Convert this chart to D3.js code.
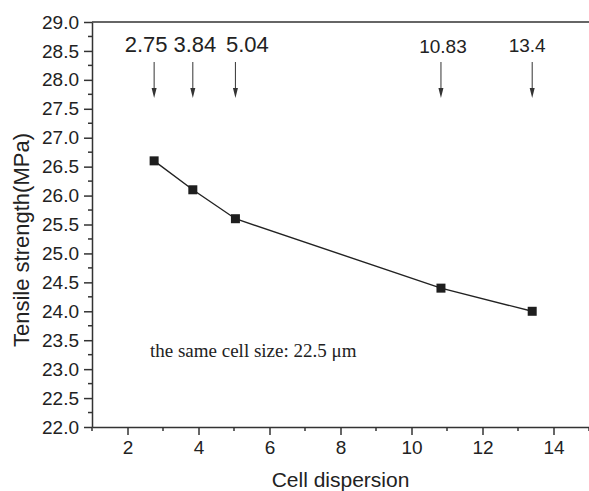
<!DOCTYPE html>
<html>
<head>
<meta charset="utf-8">
<script src="https://cdn.jsdelivr.net/npm/d3@7/dist/d3.min.js"></script>
<style>
html,body{margin:0;padding:0;background:#fff;}
svg{display:block;font-family:"Liberation Sans",Arial,sans-serif;}
</style>
</head>
<body>
<svg id="chart" width="589" height="491"></svg>
<script>
// ---- data ----
const cellDispersion = [2.75, 3.84, 5.04, 10.83, 13.4];
const tensileStrength = [26.6, 26.1, 25.6, 24.4, 24.0];
const annotationLabels = ["2.75", "3.84", "5.04", "10.83", "13.4"];
const xTicks = [2, 4, 6, 8, 10, 12, 14];
const yTicks = [22.0, 22.5, 23.0, 23.5, 24.0, 24.5, 25.0, 25.5, 26.0, 26.5, 27.0, 27.5, 28.0, 28.5, 29.0];
const noteText = "the same cell size: 22.5 \u03bcm";
const xTitle = "Cell dispersion";
const yTitle = "Tensile strength(MPa)";

// ---- styling (not data) ----
const labelFont = [22, 22, 22, 19, 19];
const labelDx = [-8, 2, 12, 2, -5];
const labelBase = [52, 52, 52, 53, 52];

const W = 589, H = 491;
const m = {left: 92, top: 22, right: 0, bottom: 64};
const svg = d3.select("#chart");
const x = d3.scaleLinear().domain([1, 15]).range([m.left, W - m.right]);
const y = d3.scaleLinear().domain([22, 29]).range([H - m.bottom, m.top]);
const axisColor = "#333";
const tickFont = 19;

// top border
svg.append("line").attr("x1", m.left).attr("x2", W).attr("y1", y(29)).attr("y2", y(29))
  .attr("stroke", axisColor).attr("stroke-width", 1.5);

// minor ticks
const yMinor = d3.range(22.25, 29, 0.5);
const xMinor = d3.range(1, 15.01, 2);

const gx = svg.append("g").attr("transform", `translate(0,${y(22)})`);
gx.call(d3.axisBottom(x).tickValues(xTicks).tickSize(8).tickSizeOuter(0).tickPadding(6).tickFormat(d3.format("d")));
gx.selectAll(".tick line").attr("stroke", axisColor).attr("stroke-width", 1.5);
gx.select(".domain").attr("stroke", axisColor).attr("stroke-width", 1.5);
gx.selectAll(".tick text").attr("font-size", tickFont).attr("fill", "#222").attr("font-family", "Liberation Sans, Arial, sans-serif");
gx.append("g").selectAll("line").data(xMinor).join("line")
  .attr("x1", d => x(d)).attr("x2", d => x(d)).attr("y1", 0).attr("y2", 4)
  .attr("stroke", axisColor).attr("stroke-width", 1.5);

const gy = svg.append("g").attr("transform", `translate(${x(1)},0)`);
gy.call(d3.axisLeft(y).tickValues(yTicks).tickSize(8).tickSizeOuter(0).tickPadding(5).tickFormat(d3.format(".1f")));
gy.selectAll(".tick line").attr("stroke", axisColor).attr("stroke-width", 1.5);
gy.select(".domain").attr("stroke", axisColor).attr("stroke-width", 1.5);
gy.selectAll(".tick text").attr("font-size", tickFont).attr("fill", "#222").attr("font-family", "Liberation Sans, Arial, sans-serif");
gy.append("g").selectAll("line").data(yMinor).join("line")
  .attr("x1", 0).attr("x2", -4).attr("y1", d => y(d)).attr("y2", d => y(d))
  .attr("stroke", axisColor).attr("stroke-width", 1.5);

// titles
svg.append("text").attr("x", x(8)).attr("y", 487).attr("text-anchor", "middle")
  .attr("font-size", 21).attr("fill", "#222").text(xTitle);
svg.append("text").attr("transform", `translate(29,240) rotate(-90)`).attr("text-anchor", "middle")
  .attr("font-size", 22).attr("fill", "#222").text(yTitle);

// data line & markers
const pts = cellDispersion.map((d, i) => ({x: d, y: tensileStrength[i]}));
svg.append("path").datum(pts)
  .attr("d", d3.line().x(d => x(d.x)).y(d => y(d.y)))
  .attr("fill", "none").attr("stroke", "#222").attr("stroke-width", 1.4);
svg.selectAll("rect.pt").data(pts).join("rect").attr("class", "pt")
  .attr("x", d => x(d.x) - 4.5).attr("y", d => y(d.y) - 4.5)
  .attr("width", 9).attr("height", 9).attr("fill", "#1e1e1e");

// annotations
const ann = svg.append("g");
cellDispersion.forEach((d, i) => {
  const px = x(d);
  ann.append("text").attr("x", px + labelDx[i]).attr("y", labelBase[i]).attr("text-anchor", "middle")
    .attr("font-size", labelFont[i]).attr("fill", "#222").text(annotationLabels[i]);
  ann.append("line").attr("x1", px).attr("x2", px).attr("y1", 62).attr("y2", 90)
    .attr("stroke", "#333").attr("stroke-width", 1);
  ann.append("path").attr("d", `M${px - 2.5},88 L${px + 2.5},88 L${px},98 Z`).attr("fill", "#333");
});

// note
svg.append("text").attr("x", 150).attr("y", 357).attr("font-size", 19)
  .attr("font-family", "Liberation Serif, Times New Roman, serif").attr("fill", "#222").text(noteText);
</script>
</body>
</html>
